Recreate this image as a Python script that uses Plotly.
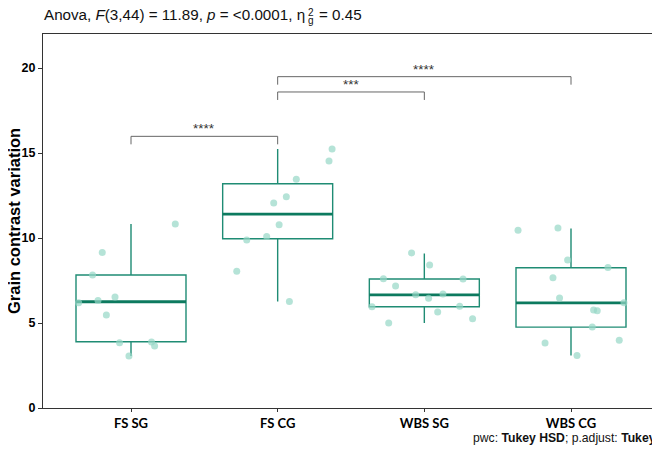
import plotly.graph_objects as go

# ---- data ----
categories = ["FS SG", "FS CG", "WBS SG", "WBS CG"]

# box statistics per group
lower_whisker = [3.06, 6.27, 5.00, 3.09]
q1_values = [3.90, 9.96, 5.96, 4.76]
median_values = [6.25, 11.41, 6.66, 6.18]
q3_values = [7.82, 13.19, 7.59, 8.25]
upper_whisker = [10.82, 15.24, 9.09, 10.56]

# observations per group
fs_sg_values = [10.82, 9.15, 7.82, 6.53, 6.33, 6.19, 5.47, 3.84, 3.88, 3.65, 3.06]
fs_cg_values = [15.24, 14.53, 13.45, 12.43, 12.06, 10.78, 10.09, 9.88, 8.04, 6.27]
wbs_sg_values = [9.12, 8.41, 7.61, 7.59, 7.18, 6.66, 6.71, 6.45, 5.96, 5.98, 5.65, 5.25, 5.00]
wbs_cg_values = [10.45, 10.59, 8.71, 8.27, 7.66, 6.47, 6.19, 5.76, 5.72, 4.76, 3.82, 3.98, 3.09]

# horizontal jitter of the points
fs_sg_jitter = [0.302, -0.196, -0.262, -0.109, -0.225, -0.357, -0.168, -0.078, 0.140, 0.161, -0.014]
fs_cg_jitter = [0.371, 0.350, 0.127, 0.059, -0.027, 0.010, -0.075, -0.211, -0.279, 0.080]
wbs_sg_jitter = [-0.087, 0.036, -0.279, 0.264, -0.196, -0.059, 0.127, 0.029, -0.357, 0.241, 0.091, 0.329, -0.243]
wbs_cg_jitter = [-0.361, -0.089, -0.023, 0.252, -0.123, -0.078, 0.361, 0.154, 0.179, 0.145, -0.177, 0.329, 0.041]

# pairwise comparisons: (group a, group b, bracket height, label)
comp_a = [0, 1, 1]
comp_b = [1, 2, 3]
comp_y = [15.98, 18.59, 19.49]
comp_label = ["****", "***", "****"]

y_ticks = [0, 5, 10, 15, 20]

# ---- styles ----
BOX_COLOR = "#1f8c74"
MEDIAN_COLOR = "#0d7a5f"
POINT_COLOR = "rgba(150, 215, 198, 0.7)"
BOX_WIDTH = 0.75
TIP = 0.47
FONT = "Liberation Sans, Arial"

fig = go.Figure()

for i, cat in enumerate(categories):
    fig.add_trace(go.Box(
        x=[i], q1=[q1_values[i]], median=[median_values[i]], q3=[q3_values[i]],
        lowerfence=[lower_whisker[i]], upperfence=[upper_whisker[i]],
        width=BOX_WIDTH, whiskerwidth=0, boxpoints=False,
        line=dict(color=BOX_COLOR, width=1.4), fillcolor="rgba(0,0,0,0)",
        showlegend=False, hoverinfo="skip", name=cat,
    ))
    fig.add_trace(go.Scatter(
        x=[i - BOX_WIDTH / 2, i + BOX_WIDTH / 2], y=[median_values[i]] * 2,
        mode="lines", line=dict(color=MEDIAN_COLOR, width=2.8),
        showlegend=False, hoverinfo="skip",
    ))

groups = [
    (fs_sg_values, fs_sg_jitter),
    (fs_cg_values, fs_cg_jitter),
    (wbs_sg_values, wbs_sg_jitter),
    (wbs_cg_values, wbs_cg_jitter),
]
for i, (vals, jit) in enumerate(groups):
    fig.add_trace(go.Scatter(
        x=[i + j for j in jit], y=vals, mode="markers",
        marker=dict(color=POINT_COLOR, size=7, line=dict(width=0)),
        showlegend=False, hoverinfo="skip",
    ))

annotations = []
for a, b, yv, lab in zip(comp_a, comp_b, comp_y, comp_label):
    fig.add_trace(go.Scatter(
        x=[a, a, b, b], y=[yv - TIP, yv, yv, yv - TIP], mode="lines",
        line=dict(color="#666666", width=1), showlegend=False, hoverinfo="skip",
    ))
    annotations.append(dict(
        x=(a + b) / 2, y=yv, xref="x", yref="y", text=lab, showarrow=False,
        yanchor="bottom", yshift=-2, font=dict(family=FONT, size=13.5, color="#333333"),
    ))

# page is shown with an 8px body margin; plot area (page px): x 43..658.7, y 34..408.3
PX0, PW = 43.0, 615.7
PY0, PH = 408.3, 374.3


def px(x):
    return (x - PX0) / PW


def py(y):
    return (PY0 - y) / PH


title_font = dict(family=FONT, size=15.2, color="#111111")
annotations.append(dict(
    x=px(41.7), y=py(14.5), xref="paper", yref="paper", xanchor="left", yanchor="middle", align="left",
    text="Anova, <i>F</i>(3,44) = 11.89, <i>p</i> = &lt;0.0001, η",
    showarrow=False, font=title_font,
))
annotations.append(dict(
    x=px(306), y=py(20.5), xref="paper", yref="paper", xanchor="left", yanchor="middle",
    text="g", showarrow=False, font=dict(family=FONT, size=10, color="#111111"),
))
annotations.append(dict(
    x=px(306), y=py(12.5), xref="paper", yref="paper", xanchor="left", yanchor="middle",
    text="2", showarrow=False, font=dict(family=FONT, size=10, color="#111111"),
))
annotations.append(dict(
    x=px(317), y=py(14.5), xref="paper", yref="paper", xanchor="left", yanchor="middle", align="left",
    text="= 0.45", showarrow=False, font=title_font,
))
annotations.append(dict(
    x=px(658), y=py(438), xref="paper", yref="paper", xanchor="right", yanchor="middle", align="right",
    text="pwc: <b>Tukey HSD</b>; p.adjust: <b>Tukey</b>",
    showarrow=False, font=dict(family=FONT, size=12.2, color="#111111"),
))
annotations.append(dict(
    x=px(14), y=0.5, xref="paper", yref="paper", xanchor="center", yanchor="middle",
    text="<b>Grain contrast variation</b>", textangle=-90,
    showarrow=False, font=dict(family=FONT, size=16.5, color="#000000"),
))

fig.update_layout(
    width=652, height=441,
    margin=dict(l=35, r=1.3, t=26, b=40.7, autoexpand=False),
    paper_bgcolor="white", plot_bgcolor="white",
    annotations=annotations,
    xaxis=dict(
        range=[-0.6, 3.6], tickmode="array", tickvals=list(range(len(categories))),
        ticktext=[f"<b>{c}</b>" for c in categories],
        showline=True, linecolor="#333333", linewidth=1, mirror=True,
        ticks="outside", ticklen=3, tickcolor="#333333", showgrid=False, zeroline=False,
        tickfont=dict(family="Lato", size=13, color="#000000"),
    ),
    yaxis=dict(
        range=[0, 22], tickmode="array", tickvals=y_ticks,
        ticktext=[f"<b>{t}</b>" for t in y_ticks],
        showline=True, linecolor="#333333", linewidth=1, mirror=True,
        ticks="outside", ticklen=4, tickcolor="#333333", showgrid=False, zeroline=False,
        tickfont=dict(family=FONT, size=12.5, color="#000000"),
    ),
)

fig.write_html("out.html")
